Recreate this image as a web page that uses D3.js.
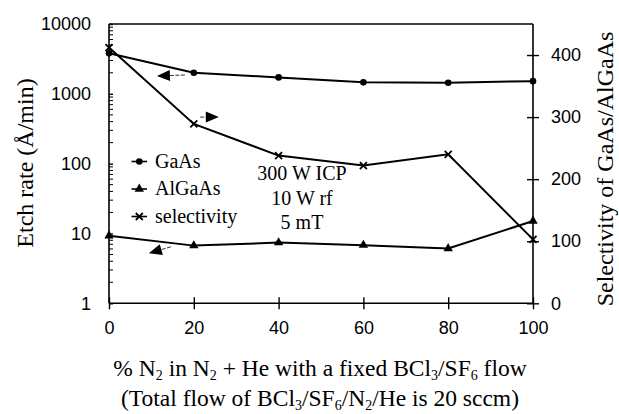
<!DOCTYPE html>
<html><head><meta charset="utf-8">
<script src="https://cdn.jsdelivr.net/npm/d3@7/dist/d3.min.js"></script>
<style>body{margin:0;background:#fff}svg{display:block}</style>
</head><body>
<svg id="c" width="619" height="414"></svg>
<script>
// ---- data ----
const categories = [0, 20, 40, 60, 80, 100];           // % N2 in N2+He
const gaasRate = [3800, 2000, 1720, 1460, 1440, 1520];  // Å/min (left, log)
const algaasRate = [9.3, 6.7, 7.4, 6.8, 6.1, 15.1];     // Å/min (left, log)
const selectivity = [412, 289, 238, 222, 240, 103];     // right axis
const xTicks = [0, 20, 40, 60, 80, 100];
const leftTicks = [1, 10, 100, 1000, 10000];
const rightTicks = [0, 100, 200, 300, 400];
const legendLabels = ["GaAs", "AlGaAs", "selectivity"];
const conditions = ["300 W ICP", "10 W rf", "5 mT"];

const svg = d3.select("#c");
const x = d3.scaleLinear().domain([0, 100]).range([109, 533]);
const yL = d3.scaleLog().domain([1, 10000]).range([303.3, 24]);
const yR = d3.scaleLinear().domain([0, 450]).range([303.3, 24]);
const sans = "'Liberation Sans', Arial, sans-serif";
const serif = "'Liberation Serif', 'Times New Roman', serif";

// frame
const g = svg.append("g");
g.append("line").attr("x1", x(0)).attr("x2", x(100)).attr("y1", yL(10000)).attr("y2", yL(10000))
  .attr("stroke", "#000").attr("stroke-width", 1.6);

// bottom axis
const xAxis = g.append("g").attr("transform", `translate(0,${yL(1)})`)
  .call(d3.axisBottom(x).tickValues(xTicks).tickSize(6).tickPadding(12).tickFormat(d3.format("d")));
xAxis.selectAll(".tick line").attr("y1", -6);
// left axis (major)
const minor = [];
for (let e = 0; e < 4; e++) for (let m = 2; m <= 9; m++) minor.push(m * Math.pow(10, e));
const lAxis = g.append("g").attr("transform", `translate(${x(0)},0)`)
  .call(d3.axisLeft(yL).tickValues(leftTicks).tickSize(6).tickPadding(12).tickFormat(d3.format("d")));
lAxis.selectAll(".tick line").attr("x2", 4);
g.append("g").selectAll("line").data(minor).join("line")
  .attr("x1", x(0)).attr("x2", x(0) + 4).attr("y1", d => yL(d)).attr("y2", d => yL(d))
  .attr("stroke", "#000").attr("stroke-width", 1);
// right axis
const rAxis = g.append("g").attr("transform", `translate(${x(100)},0)`)
  .call(d3.axisRight(yR).tickValues(rightTicks).tickSize(6).tickPadding(12).tickFormat(d3.format("d")));
rAxis.selectAll(".tick line").attr("x1", -6);
rAxis.select(".domain").attr("d", `M0,${yR(0)}V${yL(10000)}`);
lAxis.select(".domain").attr("d", `M0,${yL(1)}V${yL(10000)}`);
xAxis.select(".domain").attr("d", `M${x(0)},0H${x(100)}`);
[xAxis, lAxis, rAxis].forEach(a => {
  a.selectAll(".domain").attr("stroke-width", 1.6);
  a.selectAll(".tick line").attr("stroke-width", 1.4);
  a.selectAll("text").attr("font-family", sans).attr("font-size", 18).attr("fill", "#000");
});

// series
const pts = (vals, ys) => categories.map((c, i) => [x(c), ys(vals[i])]);
const line = d3.line();
g.append("path").attr("d", line(pts(gaasRate, yL))).attr("fill", "none").attr("stroke", "#000").attr("stroke-width", 2);
g.append("path").attr("d", line(pts(algaasRate, yL))).attr("fill", "none").attr("stroke", "#000").attr("stroke-width", 2);
g.append("path").attr("d", line(pts(selectivity, yR))).attr("fill", "none").attr("stroke", "#000").attr("stroke-width", 2);

function circleMark(sel, cx, cy) { sel.append("circle").attr("cx", cx).attr("cy", cy).attr("r", 3.3).attr("fill", "#000"); }
function triMark(sel, cx, cy) { sel.append("path").attr("d", d3.symbol(d3.symbolTriangle, 38)()).attr("transform", `translate(${cx},${cy})`).attr("fill", "#000"); }
function xMark(sel, cx, cy) { sel.append("path").attr("d", `M${cx-3.5},${cy-3.5}L${cx+3.5},${cy+3.5}M${cx-3.5},${cy+3.5}L${cx+3.5},${cy-3.5}`).attr("stroke", "#000").attr("stroke-width", 1.8); }
pts(gaasRate, yL).forEach(p => circleMark(g, p[0], p[1]));
pts(algaasRate, yL).forEach(p => triMark(g, p[0], p[1]));
pts(selectivity, yR).forEach(p => xMark(g, p[0], p[1]));

// arrows (annotation, in data units)
function arrow(x0, y0, x1, y1) {
  const ang = Math.atan2(y1 - y0, x1 - x0), L = 13, W = 5.5;
  const bx = x1 - L * Math.cos(ang), by = y1 - L * Math.sin(ang);
  g.append("line").attr("x1", x0).attr("y1", y0).attr("x2", bx).attr("y2", by).attr("stroke", "#333").attr("stroke-width", 1).attr("stroke-dasharray", "4,1.5");
  const px = -Math.sin(ang) * W, py = Math.cos(ang) * W;
  g.append("path").attr("d", `M${x1},${y1}L${bx+px},${by+py}L${bx-px},${by-py}Z`).attr("fill", "#000");
}
arrow(x(17.9), yL(1860), x(11.3), yL(1800));
arrow(x(21.5), yR(300), x(25.9), yR(300));
arrow(x(14.6), yL(6.45), x(9.4), yL(5.2));

// legend
const marks = [circleMark, triMark, xMark];
legendLabels.forEach((t, i) => {
  const cy = 161.5 + i * 27.5;
  g.append("line").attr("x1", 131.5).attr("x2", 147).attr("y1", cy).attr("y2", cy).attr("stroke", "#000").attr("stroke-width", 1.6);
  marks[i](g, 139.3, cy);
  g.append("text").attr("x", 155).attr("y", cy + 6).attr("font-family", serif).attr("font-size", 20).text(t);
});
conditions.forEach((t, i) => {
  g.append("text").attr("x", 302).attr("y", 180 + i * 24.5).attr("text-anchor", "middle")
    .attr("font-family", serif).attr("font-size", 20).text(t);
});

// titles
function rich(sel, parts) {
  let prevSub = false;
  parts.forEach(p => {
    const sub = Array.isArray(p);
    const t = sel.append("tspan").text(sub ? p[0] : p);
    if (sub) { t.attr("font-size", 14).attr("dy", prevSub ? 0 : 3.5); }
    else if (prevSub) t.attr("dy", -3.5);
    prevSub = sub;
  });
}
const t1 = g.append("text").attr("x", 320).attr("y", 376).attr("text-anchor", "middle").attr("font-family", serif).attr("font-size", 23.5);
rich(t1, ["% N", ["2"], " in N", ["2"], " + He with a fixed BCl", ["3"], "/SF", ["6"], " flow"]);
const t2 = g.append("text").attr("x", 320).attr("y", 406).attr("text-anchor", "middle").attr("font-family", serif).attr("font-size", 23.5);
rich(t2, ["(Total flow of BCl", ["3"], "/SF", ["6"], "/N", ["2"], "/He is 20 sccm)"]);

g.append("text").attr("transform", "translate(33,163) rotate(-90)").attr("text-anchor", "middle")
  .attr("font-family", serif).attr("font-size", 24).text("Etch rate (Å/min)");
g.append("text").attr("transform", "translate(613,169) rotate(-90)").attr("text-anchor", "middle")
  .attr("font-family", serif).attr("font-size", 24).text("Selectivity of GaAs/AlGaAs");
</script>
</body></html>
